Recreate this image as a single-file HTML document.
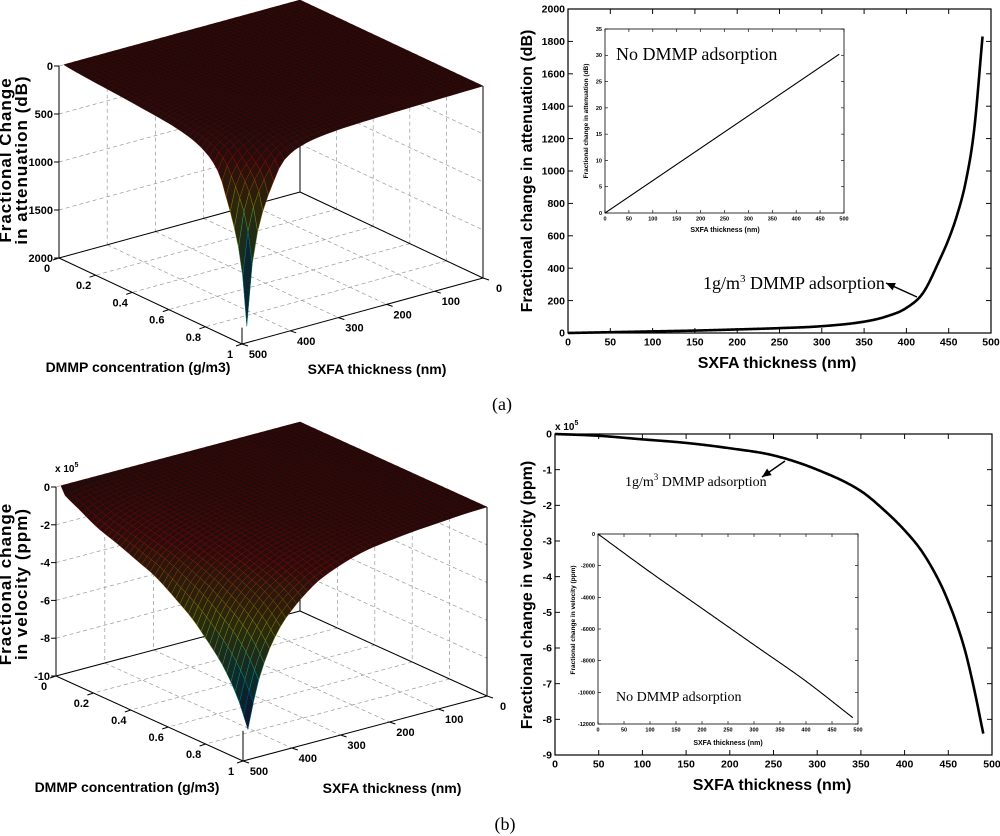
<!DOCTYPE html>
<html><head><meta charset="utf-8"><style>
html,body{margin:0;padding:0;background:#fff;}
svg{display:block;}
.b{font-family:"Liberation Sans",Arial,sans-serif;font-weight:bold;}
.s{font-family:"Liberation Serif","Times New Roman",serif;}
</style></head><body>
<svg id="fig" width="1000" height="836" viewBox="0 0 1000 836" xmlns="http://www.w3.org/2000/svg"></svg>
<script>
// ---- data ----
const attX = [0,50,100,150,200,250,300,350,375,400,420,440,450,460,470,480,490];
const attY = [0,5,10,15,22,30,42,70,100,155,250,460,580,730,930,1250,1830];
const velX = [0,50,100,150,200,250,300,350,375,400,420,440,450,460,470,480,490];
const velY = [0,-0.05,-0.15,-0.25,-0.4,-0.6,-1.0,-1.6,-2.1,-2.7,-3.3,-4.15,-4.7,-5.35,-6.15,-7.2,-8.4];
const attInsetX = [0,490];
const attInsetY = [0,30.2];
const velInsetX = [0,100,200,300,400,490];
const velInsetY = [0,-2400,-4700,-7000,-9300,-11600];
const thickTicks = [0,50,100,150,200,250,300,350,400,450,500];
const attTicks = [0,200,400,600,800,1000,1200,1400,1600,1800,2000];
const velTicks = [0,-1,-2,-3,-4,-5,-6,-7,-8,-9];
const attInsetTicks = [0,5,10,15,20,25,30,35];
const velInsetTicks = [0,-2000,-4000,-6000,-8000,-10000,-12000];
const concTicks = [0,0.2,0.4,0.6,0.8,1];
const thick3dTicks = [0,100,200,300,400,500];
const att3dTicks = [0,500,1000,1500,2000];
const vel3dTicks = [0,-2,-4,-6,-8,-10];

const NS="http://www.w3.org/2000/svg";
const svg=document.getElementById('fig');
function el(tag,attrs,parent){const e=document.createElementNS(NS,tag);for(const k in attrs)e.setAttribute(k,attrs[k]);(parent||svg).appendChild(e);return e;}
function txt(s,x,y,cls,size,anchor,parent){const t=el('text',{x:x,y:y,'class':cls,'font-size':size,'text-anchor':anchor||'start'},parent);t.textContent=s;return t;}
function interp(xs,ys,x){
  const n=xs.length;
  if(n<3){if(x<=xs[0])return ys[0];if(x>=xs[n-1])return ys[n-1];return ys[0]+(x-xs[0])/(xs[1]-xs[0])*(ys[1]-ys[0]);}
  if(x<=xs[0])return ys[0];if(x>=xs[n-1])return ys[n-1];
  const d=[],m=[];
  for(let i=0;i<n-1;i++)d.push((ys[i+1]-ys[i])/(xs[i+1]-xs[i]));
  m[0]=d[0];m[n-1]=d[n-2];
  for(let i=1;i<n-1;i++){m[i]=(d[i-1]*d[i]<=0)?0:(d[i-1]+d[i])/2;}
  for(let i=0;i<n-1;i++){if(d[i]===0){m[i]=0;m[i+1]=0;continue;}const a=m[i]/d[i],b=m[i+1]/d[i],s=a*a+b*b;if(s>9){const tt=3/Math.sqrt(s);m[i]=tt*a*d[i];m[i+1]=tt*b*d[i];}}
  let i=0;while(x>xs[i+1])i++;
  const h=xs[i+1]-xs[i],t=(x-xs[i])/h;
  const h00=2*t*t*t-3*t*t+1,h10=t*t*t-2*t*t+t,h01=-2*t*t*t+3*t*t,h11=t*t*t-t*t;
  return h00*ys[i]+h10*h*m[i]+h01*ys[i+1]+h11*h*m[i+1];
}

function draw2d(c,xs,ys,xt,yt,g){
  const sx=v=>c.L+(v-c.xmin)/(c.xmax-c.xmin)*(c.R-c.L);
  const sy=v=>c.B-(v-c.ymin)/(c.ymax-c.ymin)*(c.B-c.T);
  el('rect',{x:c.L,y:c.T,width:c.R-c.L,height:c.B-c.T,fill:'#fff',stroke:'#000','stroke-width':c.bw},g);
  const tl=c.tl;
  xt.forEach(v=>{const x=sx(v);
    el('line',{x1:x,y1:c.B,x2:x,y2:c.B-tl,stroke:'#000','stroke-width':c.bw*0.8},g);
    el('line',{x1:x,y1:c.T,x2:x,y2:c.T+tl,stroke:'#000','stroke-width':c.bw*0.8},g);
    const t=txt(String(v),x,c.B+c.fs+2,'b',c.fs,'middle',g);
    
    
  });
  yt.forEach(v=>{const y=sy(v);
    el('line',{x1:c.L,y1:y,x2:c.L+tl,y2:y,stroke:'#000','stroke-width':c.bw*0.8},g);
    el('line',{x1:c.R,y1:y,x2:c.R-tl,y2:y,stroke:'#000','stroke-width':c.bw*0.8},g);
    const t=txt(String(v),c.L-3,y+c.fs*0.35,'b',c.fs,'end',g);
    
    
  });
  let d='';
  for(let x=xs[0];x<=xs[xs.length-1]+0.001;x+=1){d+=(d?'L':'M')+sx(x).toFixed(2)+','+sy(interp(xs,ys,x)).toFixed(2);}
  const p=el('path',{d:d,fill:'none',stroke:'#000','stroke-width':c.lw,'stroke-linejoin':'round'},g);
  
  
}

function jet(v){v=Math.max(0,Math.min(1,v));const r=Math.max(0,Math.min(1,1.5-Math.abs(4*v-3)));const gg=Math.max(0,Math.min(1,1.5-Math.abs(4*v-2)));const b=Math.max(0,Math.min(1,1.5-Math.abs(4*v-1)));return [r,gg,b];}
function rgb(a,k,add){add=add||0;return 'rgb('+Math.round(a[0]*255*k+add)+','+Math.round(a[1]*255*k+add)+','+Math.round(a[2]*255*k+add)+')';}

function draw3d(c,xs,ys,zt,g){
  const P=(cc,t,f)=>[c.Bk[0]+cc*c.vc[0]+(t/500)*c.vt[0], c.Bk[1]+cc*c.vc[1]+(t/500)*c.vt[1]-c.H+c.H*(f/c.zFull)];
  const dash={stroke:'#999','stroke-width':0.7,'stroke-dasharray':'4,3',fill:'none'};
  const ln=(a,b,at)=>el('line',Object.assign({x1:a[0],y1:a[1],x2:b[0],y2:b[1]},at),g);
  const solid={stroke:'#000','stroke-width':1};
  zt.forEach(z=>{ln(P(0,500,z),P(0,0,z),dash);ln(P(0,0,z),P(1,0,z),dash);});
  concTicks.forEach(v=>{ln(P(v,0,0),P(v,0,c.zFull),dash);ln(P(v,0,c.zFull),P(v,500,c.zFull),dash);});
  thick3dTicks.forEach(v=>{ln(P(0,v,0),P(0,v,c.zFull),dash);ln(P(0,v,c.zFull),P(1,v,c.zFull),dash);});
  ln(P(0,0,0),P(0,0,c.zFull),solid);
  ln(P(0,500,c.zFull),P(0,0,c.zFull),solid);
  ln(P(0,0,c.zFull),P(1,0,c.zFull),solid);
  ln(P(0,500,c.zFull),P(1,500,c.zFull),solid);
  ln(P(1,500,c.zFull),P(1,0,c.zFull),solid);
  concTicks.forEach(v=>{const a=P(v,500,c.zFull);ln(a,[a[0]-6,a[1]+2],solid);});
  thick3dTicks.forEach(v=>{const a=P(1,v,c.zFull);ln(a,[a[0]+6,a[1]+2],solid);});
  zt.forEach(z=>{const a=P(0,500,z);ln(a,[a[0]-5,a[1]],solid);});
  const N=44, tMax=490, gEnd=interp(xs,ys,tMax);
  const f=(cc,t)=>interp(xs,ys,t)*Math.pow(interp(xs,ys,cc*tMax)/gEnd,c.pw);
  const quads=[];
  for(let i=0;i<N;i++)for(let j=0;j<N;j++){
    const c0=i/N,c1=(i+1)/N,t0=j/N*tMax,t1=(j+1)/N*tMax;
    const pts=[P(c0,t0,f(c0,t0)),P(c1,t0,f(c1,t0)),P(c1,t1,f(c1,t1)),P(c0,t1,f(c0,t1))];
    const fm=(f(c0,t0)+f(c1,t1))/2;
    quads.push({o:(c0+c1)/2+(t0+t1)/1000,pts:pts,v:1-fm/c.zFull});
  }
  quads.sort((a,b)=>a.o-b.o);
  const sg=el('g',{},g);
  
  
  quads.forEach(q=>{const col=jet(q.v);
    el('polygon',{points:q.pts.map(p=>p[0].toFixed(1)+','+p[1].toFixed(1)).join(' '),fill:rgb(col,0.12,12),stroke:rgb(col,0.55),'stroke-width':0.5},sg);});
  ln(P(0,500,0),P(0,500,c.zFull),solid);
  ln(P(1,0,0),P(1,0,c.zFull),solid);
  ln(P(1,500,c.zFull),P(1,500,f(1,tMax)),solid);
  zt.forEach(z=>{const a=P(0,500,z);const t=txt(String(z),a[0]-6,a[1]+4,'b',11,'end',g);
    
    });
  concTicks.forEach(v=>{const a=P(v,500,c.zFull);const t=txt(String(v),a[0]-12,a[1]+14,'b',11,'middle',g);
    
    });
  thick3dTicks.forEach(v=>{const a=P(1,v,c.zFull);const t=txt(String(v),a[0]+16,a[1]+14,'b',11,'middle',g);
    
    });
}

function arrow(x1,y1,x2,y2,g){
  el('line',{x1:x1,y1:y1,x2:x2,y2:y2,stroke:'#000','stroke-width':1.5},g);
  const a=Math.atan2(y2-y1,x2-x1),L=9,W=4;
  const p=[[x2,y2],[x2-L*Math.cos(a)+W*Math.sin(a),y2-L*Math.sin(a)-W*Math.cos(a)],[x2-L*Math.cos(a)-W*Math.sin(a),y2-L*Math.sin(a)+W*Math.cos(a)]];
  el('polygon',{points:p.map(q=>q.join(',')).join(' '),fill:'#000'},g);
}
function rotText(s,x,y,size,cls,g){const t=txt(s,0,0,cls,size,'middle',g);t.setAttribute('transform','translate('+x+','+y+') rotate(-90)');return t;}

// ===== (a) 3D =====
const g1=el('g',{});


draw3d({Bk:[300,192],vc:[183,86],vt:[-241,66],H:192,zFull:2000,pw:0.75},attX,attY,att3dTicks,g1);
let t;
t=rotText('Fractional Change',11,160,17,'b',g1);t.setAttribute('letter-spacing','1');


t=rotText('in attenuation (dB)',27,160,17,'b',g1);t.setAttribute('letter-spacing','1');


t=txt('DMMP concentration (g/m3)',138,372,'b',14,'middle',g1);


t=txt('SXFA thickness (nm)',377,374,'b',14,'middle',g1);



// ===== (a) 2D =====
const g2=el('g',{});


draw2d({L:568,R:991,T:9,B:333,xmin:0,xmax:500,ymin:0,ymax:2000,bw:1.2,tl:5,fs:10.5,lw:2.6},attX,attY,thickTicks,attTicks,g2);
const g2i=el('g',{});


draw2d({L:605,R:844,T:29,B:213,xmin:0,xmax:500,ymin:0,ymax:35,bw:0.8,tl:3,fs:5.5,lw:1.1},attInsetX,attInsetY,thickTicks,attInsetTicks,g2i);
t=rotText('Fractional change in attenuation (dB)',588,121,6.5,'b',g2i);


t=txt('SXFA thickness (nm)',725,232,'b',7,'middle',g2i);


t=txt('No DMMP adsorption',616,60,'s',18,'start',g2i);


t=rotText('Fractional change in attenuation (dB)',532,171,16,'b',g2);


t=txt('SXFA thickness (nm)',777,368,'b',16,'middle',g2);


t=el('text',{x:703,y:289,'class':'s','font-size':18},g2);
t.innerHTML='1g/m<tspan dy="-7" font-size="11">3</tspan><tspan dy="7"> DMMP adsorption</tspan>';


arrow(917,297,886,283,g2);
t=txt('(a)',502,410,'s',18,'middle');



// ===== (b) 3D =====
const g3=el('g',{});


draw3d({Bk:[300,611],vc:[187,85],vt:[-244,65],H:189,zFull:-10,pw:0.45},velX,velY,vel3dTicks,g3);
t=el('text',{x:55,y:472,'class':'b','font-size':10},g3);
t.innerHTML='x 10<tspan dy="-5" font-size="7">5</tspan>';


t=rotText('Fractional change',11,584,17,'b',g3);t.setAttribute('letter-spacing','1');


t=rotText('in velocity (ppm)',27,584,17,'b',g3);t.setAttribute('letter-spacing','1');


t=txt('DMMP concentration (g/m3)',127,792,'b',14,'middle',g3);


t=txt('SXFA thickness (nm)',392,793,'b',14,'middle',g3);



// ===== (b) 2D =====
const g4=el('g',{});


draw2d({L:555,R:992,T:434,B:755,xmin:0,xmax:500,ymin:-9,ymax:0,bw:1.2,tl:5,fs:10.5,lw:2.6},velX,velY,thickTicks,velTicks,g4);
const g4i=el('g',{});


draw2d({L:598,R:858,T:534,B:724,xmin:0,xmax:500,ymin:-12000,ymax:0,bw:0.8,tl:3,fs:5.5,lw:1.1},velInsetX,velInsetY,thickTicks,velInsetTicks,g4i);
t=rotText('Fractional change in velocity (ppm)',575,620,6.5,'b',g4i);


t=txt('SXFA thickness (nm)',728,745,'b',7,'middle',g4i);


t=txt('No DMMP adsorption',616,701,'s',14,'start',g4i);


t=el('text',{x:625,y:486,'class':'s','font-size':14},g4);
t.innerHTML='1g/m<tspan dy="-6" font-size="9">3</tspan><tspan dy="6"> DMMP adsorption</tspan>';


arrow(785,461,762,477,g4);
t=el('text',{x:555,y:430,'class':'b','font-size':10},g4);
t.innerHTML='x 10<tspan dy="-5" font-size="7">5</tspan>';


t=rotText('Fractional change in velocity (ppm)',532,595,16,'b',g4);


t=txt('SXFA thickness (nm)',772,790,'b',16,'middle',g4);


t=txt('(b)',505,830,'s',18,'middle');


</script>
</body></html>
